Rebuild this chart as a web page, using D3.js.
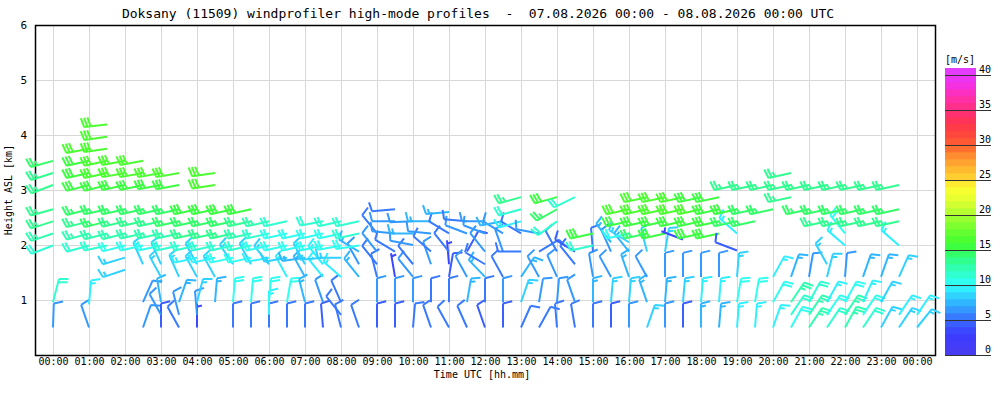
<!DOCTYPE html>
<html>
<head>
<meta charset="utf-8">
<script src="https://cdn.jsdelivr.net/npm/d3@7"></script>
<style>
  body { margin: 0; background: #fff; }
  text { font-family: "DejaVu Sans Mono", monospace; fill: #000; }
</style>
</head>
<body>
<div id="graph"></div>
<script>
// axis ticks
const hourTicks = [0,1,2,3,4,5,6,7,8,9,10,11,12,13,14,15,16,17,18,19,20,21,22,23,24];
const hourLabels = ["00:00","01:00","02:00","03:00","04:00","05:00","06:00","07:00","08:00","09:00","10:00","11:00",
  "12:00","13:00","14:00","15:00","16:00","17:00","18:00","19:00","20:00","21:00","22:00","23:00","00:00"];
const heightTicks = [1,2,3,4,5,6];
const speedTicks = [0,5,10,15,20,25,30,35,40];

// wind barbs: [time h, height km, direction deg, speed m/s]
const barbs00to06 = [
  [0,0.5,2,6],[0,0.96,15,11],
  [0,1.99,250,11],[0,2.21,252,12],[0,2.43,253,13],[0,2.65,255,13],[0,3.09,250,13],[0,3.31,253,13],[0,3.53,255,14],
  [1,0.5,340,6],[1,0.92,5,9],
  [1,1.99,255,11],[1,2.21,255,12],[1,2.43,256,13],[1,2.65,256,14],[1,3.09,256,15],[1,3.31,258,15],[1,3.53,258,15],[1,3.75,260,16],
  [1.5,1.99,258,11],[1.5,2.21,256,12],[1.5,2.43,256,14],[1.5,2.65,258,14],[1.5,3.09,256,15],[1.5,3.31,258,16],[1.5,3.53,258,16],
  [1.5,3.75,262,16],[1.5,3.97,262,16],[1.5,4.19,264,16],
  [2,1.55,252,8],[2,1.77,254,8],
  [2,1.99,256,10],[2,2.21,256,12],[2,2.43,257,13],[2,2.65,258,14],[2,3.09,258,15],[2,3.31,260,16],[2,3.53,260,16],
  [2.5,0.5,20,6],[2.5,0.96,25,6],[2.5,1.65,335,8],
  [2.5,1.99,258,10],[2.5,2.21,258,12],[2.5,2.43,258,13],[2.5,2.65,258,14],[2.5,3.09,258,15],[2.5,3.31,260,16],[2.5,3.53,260,16],
  [3,0.5,0,4.5],[3,0.73,330,6],[3,0.96,350,7],[3,1.42,330,8],[3,1.65,335,8],
  [3,1.99,258,10],[3,2.21,258,12],[3,2.43,258,13],[3,2.65,258,14],[3,3.09,260,15],[3,3.31,260,16],
  [3.5,0.5,330,5],[3.5,0.73,345,6],[3.5,0.96,20,7],[3.5,1.42,335,8],
  [3.5,1.99,258,11],[3.5,2.21,258,12],[3.5,2.43,258,14],[3.5,2.65,258,14],[3.5,3.09,260,15],[3.5,3.31,260,16],
  [4,0.5,0,3],[4,0.73,355,6],[4,0.96,15,8],[4,1.42,330,8],[4,1.65,330,8],
  [4,1.77,258,9],[4,1.99,258,11],[4,2.21,258,13],[4,2.43,258,14],[4,2.65,258,15],
  [4.5,0.96,5,7],[4.5,1.42,330,8],
  [4.5,1.77,258,9],[4.5,1.99,258,11],[4.5,2.21,258,13],[4.5,2.43,258,14],[4.5,2.65,258,15],[4.5,3.09,262,16],[4.5,3.31,262,16],
  [5,0.5,0,5],[5,0.96,5,10],[5,1.65,325,8],
  [5,1.77,258,10],[5,1.99,258,11],[5,2.21,258,13],[5,2.43,258,14],[5,2.65,258,15],
  [5.5,0.5,0,5],[5.5,0.96,5,10],[5.5,1.65,330,8],
  [5.5,1.77,258,10],[5.5,1.99,258,11],[5.5,2.21,258,12],[5.5,2.43,258,13],[5.5,2.65,258,15]
];

const barbs06to12 = [
  [6,0.5,0,5],[6,0.73,0,9],[6,0.96,5,10],[6,1.65,320,8],
  [6,1.77,260,9],[6,1.99,258,10],[6,2.21,258,11],[6,2.43,258,12],
  [6.5,0.5,0,5],[6.5,0.96,10,10],[6.5,1.42,330,9],
  [6.5,1.77,260,8],[6.5,1.99,258,10],[6.5,2.21,258,10],[6.5,2.43,258,11],
  [7,0.5,0,5],[7,0.96,345,7],[7,1.42,330,7],[7,1.65,330,8],
  [7,1.77,262,7],[7,1.99,258,10],[7,2.21,258,10],
  [7.5,0.5,355,4],[7.5,0.96,340,6],[7.5,1.42,320,9],[7.5,1.65,320,9],
  [7.5,1.77,265,8],[7.5,1.99,258,10],[7.5,2.21,258,10],[7.5,2.43,260,11],
  [8,0.5,345,5],[8,0.73,320,5],[8,0.96,335,5],[8,1.42,310,9],
  [8,1.77,270,8],[8,1.99,260,10],[8,2.21,258,10],[8,2.43,258,11],
  [8.5,0.5,340,5],[8.5,1.42,320,7],[8.5,1.65,330,6],
  [8.5,1.88,300,7],[8.5,1.99,262,10],[8.5,2.21,258,11],[8.5,2.43,258,11],
  [9,0.5,0,4],[9,0.96,0,6],[9,1.42,345,5],[9,1.65,320,5],[9,1.88,320,6],[9,2.21,320,5],
  [9.5,0.5,0,4],[9.5,0.96,0,6],[9.5,1.42,350,3],[9.5,1.88,300,5],[9.5,2.21,275,6],[9.5,2.43,270,6],[9.5,2.65,265,5],
  [10,0.5,5,5],[10,0.96,0,6],[10,1.42,320,6],[10,1.65,320,5],[10,2.0,280,6],[10,2.21,270,7],[10,2.43,268,6],
  [10.5,0.5,340,5],[10.5,0.96,0,5],[10.5,1.65,340,6],[10.5,1.88,310,5],[10.5,2.21,275,6],[10.5,2.43,270,7],
  [11,0.5,330,5],[11,0.96,0,5],[11,1.42,10,4],[11,1.65,355,3],[11,1.88,320,5],[11,2.21,300,5],[11,2.6,265,7],
  [11.5,0.5,335,5],[11.5,0.96,10,7],[11.5,1.42,330,6],[11.5,1.88,30,4],[11.5,2.21,290,6],[11.5,2.43,275,5],
  [12,0.5,340,4],[12,0.96,0,5],[12,1.42,315,7],[12,1.65,300,5],[12,1.88,320,6],[12,2.21,290,6],[12,2.43,270,6],
  [12.5,0.5,0,4],[12.5,0.96,0,6],[12.5,1.42,330,5],[12.5,1.88,340,6],[12.5,2.21,300,6],[12.5,2.43,260,7]
];

const barbs12to18 = [
  [13,0.5,25,5],[13,0.96,20,8],[13,1.42,35,7],[13,1.88,270,5],[13,2.21,300,5],[13,2.43,255,9],[13,2.65,255,11],[13,2.87,255,13],
  [13.5,0.5,30,5],[13.5,0.96,10,6],[13.5,1.42,330,6],[13.5,1.88,60,5],[13.5,2.21,280,6],
  [14,0.5,355,5],[14,0.96,5,6],[14,1.42,335,6],[14,1.88,330,5],[14,2.43,235,11],[14,2.65,242,14],[14,2.87,255,15],
  [14.5,0.5,350,5],[14.5,0.96,340,6],[14.5,1.65,320,5],[14.5,1.88,300,4],[14.5,2.87,245,11],
  [15,0.5,0,5],[15,0.96,0,7],[15,1.42,350,6],[15,1.88,355,5],[15,1.99,258,11],[15,2.21,258,15],
  [15.5,0.5,0,4],[15.5,0.96,5,8],[15.5,1.42,330,6],[15.5,1.88,335,6],[15.5,2.05,320,7],
  [16,0.5,0,6],[16,0.96,5,8],[16,1.42,340,7],[16,1.88,320,7],[16,2.05,300,8],[16,2.21,258,10],[16,2.43,258,15],[16,2.65,258,16],
  [16.5,0.5,20,8],[16.5,0.96,340,7],[16.5,1.42,330,6],[16.5,1.88,345,8],[16.5,2.21,258,14],[16.5,2.43,258,15],[16.5,2.65,258,16],[16.5,2.87,258,16],
  [17,0.5,0,6],[17,0.96,5,7],[17,1.42,0,6],[17,1.88,10,8],[17,2.21,258,15],[17,2.43,258,15],[17,2.65,258,16],[17,2.87,258,16],
  [17.5,0.5,0,4],[17.5,0.96,5,8],[17.5,1.42,0,6],[17.5,2.1,290,3],[17.5,2.43,258,15],[17.5,2.65,258,16],[17.5,2.87,258,16]
];

const barbs18to24 = [
  [18,0.5,0,7],[18,0.96,5,9],[18,1.42,0,6],[18,2.21,258,15],[18,2.43,258,15],[18,2.65,258,16],[18,2.87,258,15],
  [18.5,0.5,5,7],[18.5,0.96,5,9],[18.5,1.42,0,6],[18.5,2.21,258,15],[18.5,2.43,258,15],[18.5,2.65,258,15],[18.5,2.87,258,15],
  [19,0.5,5,9],[19,0.96,10,10],[19,1.42,5,8],[19,1.9,290,4],[19,2.21,310,9],[19,2.43,258,14],[19,2.65,258,15],[19,3.09,258,13],
  [19.5,0.5,5,9],[19.5,0.96,10,10],[19.5,2.43,258,14],[19.5,2.65,258,14],[19.5,3.09,258,13],
  [20,0.5,20,9],[20,0.96,30,10],[20,1.42,30,9],[20,2.65,258,14],[20,3.09,258,13],
  [20.5,0.5,30,10],[20.5,0.73,35,11],[20.5,0.96,35,12],[20.5,1.42,20,7],[20.5,2.87,258,13],[20.5,3.09,258,13],[20.5,3.31,258,13],
  [21,0.5,35,12],[21,0.73,35,12],[21,0.96,30,11],[21,1.42,10,6],[21,2.65,258,14],[21,3.09,258,13],
  [21.5,0.5,35,11],[21.5,0.73,35,10],[21.5,0.96,30,9],[21.5,1.42,15,8],[21.5,1.65,330,8],[21.5,2.43,258,13],[21.5,2.65,258,14],[21.5,3.09,258,13],
  [22,0.5,30,12],[22,0.73,35,12],[22,0.96,30,10],[22,1.42,5,6],[22,1.99,310,9],[22,2.21,320,10],[22,2.43,258,13],[22,2.65,258,14],[22,3.09,258,13],
  [22.5,0.5,35,11],[22.5,0.73,35,10],[22.5,0.96,25,9],[22.5,1.42,20,7],[22.5,2.43,258,13],[22.5,2.65,258,14],[22.5,3.09,258,13],
  [23,0.5,30,8],[23,0.96,30,8],[23,1.42,20,7],[23,2.43,258,13],[23,2.65,258,14],[23,3.09,258,13],
  [23.5,0.5,35,8],[23.5,0.73,35,9],[23.5,1.42,25,8],[23.5,1.99,310,9],[23.5,2.43,258,13],[23.5,2.65,258,14],[23.5,3.09,258,13],
  [24,0.5,40,8],[24,0.73,35,9]
];

// colour scale of the colour bar (1 m/s bands)
const colorStops = [[0,"#4b3cf0"],[3,"#3a3cff"],[5,"#3a6aff"],[7,"#30a8ff"],[9,"#30e0ff"],[10,"#30ffff"],
  [12,"#30ffc0"],[14,"#30ff80"],[15,"#35ff50"],[16,"#40ff30"],[18,"#70ff30"],[20,"#a8ff30"],[22,"#e0ff30"],
  [24,"#ffff30"],[25,"#ffd830"],[27,"#ffb030"],[29,"#ff8030"],[30,"#ff6030"],[32,"#ff4040"],[34,"#ff3060"],
  [35,"#ff3080"],[37,"#ff30b0"],[39,"#f030f0"],[41,"#e040ff"]];

//setup svg
const svg = d3.select("#graph").append("svg").attr("width", 1000).attr("height", 400);

const x = d3.scaleLinear().domain([-0.5, 24.5]).range([35, 935]);
const y = d3.scaleLinear().domain([0, 6]).range([355, 25]);
const cy = d3.scaleLinear().domain([0, 40]).range([355, 75]);
const ramp = d3.scaleLinear().domain(colorStops.map(d => d[0])).range(colorStops.map(d => d[1]));
const bandColor = v => ramp(Math.min(40, Math.max(0, Math.floor(v))) + 0.5);

// title
svg.append("text").attr("x", 478).attr("y", 18).attr("text-anchor", "middle").style("fill", "#000")
  .style("font-size", "13px").style("white-space", "pre")
  .text("Doksany (11509) windprofiler high-mode profiles  -  07.08.2026 00:00 - 08.08.2026 00:00 UTC");

//grid
svg.append("g").selectAll("line").data(hourTicks).enter().append("line")
  .attr("x1", d => Math.round(x(d)) + 0.5).attr("x2", d => Math.round(x(d)) + 0.5)
  .attr("y1", y(6)).attr("y2", y(0)).attr("stroke", "#d8d8d8");
svg.append("g").selectAll("line").data(heightTicks.filter(d => d < 6)).enter().append("line")
  .attr("x1", 35).attr("x2", 935)
  .attr("y1", d => Math.round(y(d)) + 0.5).attr("y2", d => Math.round(y(d)) + 0.5).attr("stroke", "#d8d8d8");

//axes
const xAxis = svg.append("g").attr("transform", "translate(0,355)")
  .call(d3.axisBottom(x).tickValues(hourTicks).tickFormat((d, i) => hourLabels[i]).tickSize(0).tickPadding(3));
const yAxis = svg.append("g").attr("transform", "translate(35,0)")
  .call(d3.axisLeft(y).tickValues(heightTicks).tickFormat(d3.format("d")).tickSize(0).tickPadding(8));
[xAxis, yAxis].forEach(a => {
  a.select(".domain").remove();
  a.selectAll("text").style("font-family", "DejaVu Sans Mono").style("font-size", "10px").style("fill", "#000");
});
yAxis.selectAll("text").style("font-size", "11px");

svg.append("rect").attr("x", 35.5).attr("y", 25.5).attr("width", 900).attr("height", 330)
  .attr("fill", "none").attr("stroke", "#000").attr("stroke-width", 1.5);

//axis titles
const labels = svg.append("g").style("fill", "#000").style("font-size", "10px");
labels.append("text").attr("x", 482).attr("y", 378).attr("text-anchor", "middle")
  .style("fill", "#000").text("Time UTC [hh.mm]");
labels.append("text").attr("transform", "translate(12,190) rotate(-90)").attr("text-anchor", "middle")
  .style("fill", "#000").text("Height ASL [km]");

//wind barbs: staff points towards where the wind comes from, feathers at its far end
function barbPath(d) {
  const px = x(d[0]), py = y(d[1]);
  const r = d[2] * Math.PI / 180;
  const tipX = px + Math.sin(r) * 23, tipY = py - Math.cos(r) * 24;
  const len = Math.hypot(tipX - px, tipY - py);
  const ux = (tipX - px) / len, uy = (tipY - py) / len;
  const tilt = 14 * Math.PI / 180;
  const bx = -uy * Math.cos(tilt) + ux * Math.sin(tilt);
  const by = ux * Math.cos(tilt) + uy * Math.sin(tilt);
  const kt = Math.round(d[3] * 1.944 / 5) * 5;
  const full = Math.floor(kt / 10), half = kt % 10 >= 5 ? 1 : 0;
  const p = d3.path();
  p.moveTo(px, py);
  p.lineTo(tipX, tipY);
  for (let k = 0; k < full + half; k++) {
    const step = (full === 0 && half) ? 1 : k;
    const ox = tipX - ux * 3.3 * step, oy = tipY - uy * 3.3 * step;
    const l = k < full ? 9.5 : 5;
    p.moveTo(ox, oy);
    p.lineTo(ox + bx * l, oy + by * l);
  }
  return p.toString();
}

const allBarbs = barbs00to06.concat(barbs06to12, barbs12to18, barbs18to24);
svg.append("g").selectAll("path").data(allBarbs).enter().append("path")
  .attr("d", barbPath)
  .attr("fill", "none")
  .attr("stroke", d => bandColor(d[3]))
  .attr("stroke-width", 2);

//colour bar
const bands = d3.range(0, 41);
svg.append("g").selectAll("rect").data(bands).enter().append("rect")
  .attr("x", 945).attr("width", 31)
  .attr("y", d => cy(d + 1)).attr("height", d => cy(d) - cy(d + 1) + 0.3)
  .attr("fill", d => ramp(d + 0.5));
svg.append("g").selectAll("line").data(speedTicks).enter().append("line")
  .attr("x1", 945).attr("x2", 991)
  .attr("y1", d => Math.round(cy(d)) + 0.5).attr("y2", d => Math.round(cy(d)) + 0.5)
  .attr("stroke", "#333").attr("stroke-width", 1);
svg.append("g").selectAll("text").data(speedTicks).enter().append("text")
  .attr("x", 991).attr("y", d => cy(d) - 2).attr("text-anchor", "end").style("fill", "#000")
  .style("font-size", "10px").text(d => d);
svg.append("text").attr("x", 945).attr("y", 63).style("fill", "#000").style("font-size", "10px").text("[m/s]");
</script>
</body>
</html>
